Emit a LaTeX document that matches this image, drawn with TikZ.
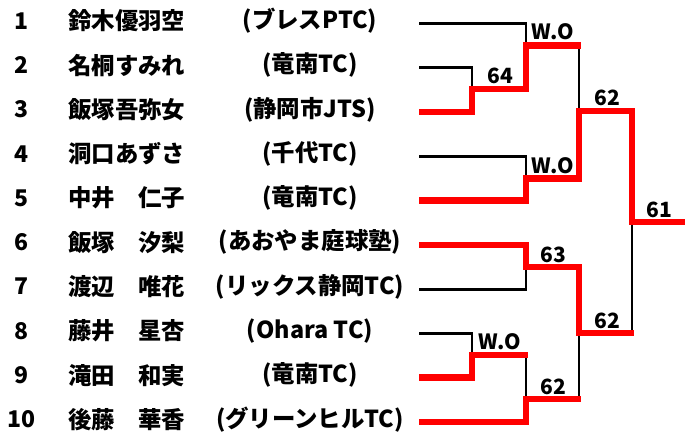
\documentclass[tikz,border=0pt]{standalone}
\usepackage{fontspec}
\setmainfont{Noto Sans CJK JP}
\begin{document}
\begin{tikzpicture}[x=1pt,y=-1pt,
  numtxt/.style={font=\bfseries\fontsize{23}{23}\selectfont, inner sep=0pt, anchor=center},
  nametxt/.style={font=\bfseries\fontsize{23.4}{23.4}\selectfont, inner sep=0pt, anchor=west},
  clubtxt/.style={font=\bfseries\fontsize{23.4}{23.4}\selectfont, inner sep=0pt, anchor=center},
  score/.style={font=\bfseries\fontsize{21}{21}\selectfont, inner sep=0pt, anchor=base},
  win/.style={draw=red, line width=6.5pt, line join=miter},
  lose/.style={draw=black, line width=2.8pt}]
\useasboundingbox (0,0) rectangle (685,433);

% row texts
\foreach \i/\nm/\cl in {1/鈴木優羽空/(ブレスPTC),2/名桐すみれ/(竜南TC),3/飯塚吾弥女/(静岡市JTS),4/洞口あずさ/(千代TC),5/中井　仁子/(竜南TC),6/飯塚　汐梨/(あおやま庭球塾),7/渡辺　唯花/(リックス静岡TC),8/藤井　星杏/(Ohara TC),9/滝田　和実/(竜南TC),10/後藤　華香/(グリーンヒルTC)}{
  \pgfmathsetmacro{\yy}{23.3+44.3*(\i-1)}
  \coordinate (s\i) at (419,\yy);
  \node[numtxt] (n\i) at (22,\yy-2.5) {\i};
  \node[nametxt] (m\i) at (68,\yy-2.5) {\nm};
  \node[clubtxt] (c\i) at (310,\yy-2.5) {\cl};
}

% junctions
\coordinate (A1) at (472,89);
\coordinate (B1) at (526,45.5);
\coordinate (Bend) at (581,45.5);
\coordinate (C1) at (526,178.5);
\coordinate (D1) at (579,111);
\coordinate (Fin1) at (632,222);
\coordinate (Fend) at (685,222);
\coordinate (E1) at (526,267);
\coordinate (H1) at (579,333);
\coordinate (Hend) at (634,333);
\coordinate (F1) at (472,355);
\coordinate (F2) at (528,355);
\coordinate (G1) at (526,399);
\coordinate (G2) at (581,399);

% losing lines
\draw[lose] (s1) -| (B1);
\draw[lose] (s2) -| (A1);
\draw[lose] (s4) -| (C1);
\draw[lose] (s7) -| (E1);
\draw[lose] (s8) -| (F1);
\draw[lose] (G1 |- F1) -- (G1);
\draw[lose] (D1 |- B1) -- (D1);
\draw[lose] (H1) -- (H1 |- G1);
\draw[lose] (Fin1) -- (Fin1 |- H1);

% winning lines
\draw[win] (s3) -| (A1) -| (B1) -- (Bend);
\draw[win] (s5) -| (C1) -| (D1) -| (Fin1) -- (Fend);
\draw[win] (s6) -| (E1) -| (H1) -- (Hend);
\draw[win] (s9) -| (F1) -- (F2);
\draw[win] (s10) -| (G1) -- (G2);

% scores
\node[score] (tA) at (500.5,84) {64};
\node[score] (tB) at (553,40) {W.O};
\node[score] (tC) at (553,173) {W.O};
\node[score] (tD) at (607,106) {62};
\node[score] (tE) at (553,262) {63};
\node[score] (tF) at (500,349.5) {W.O};
\node[score] (tG) at (553,394) {62};
\node[score] (tH) at (607,328) {62};
\node[score] (tI) at (659.5,217) {61};
\end{tikzpicture}
\end{document}
